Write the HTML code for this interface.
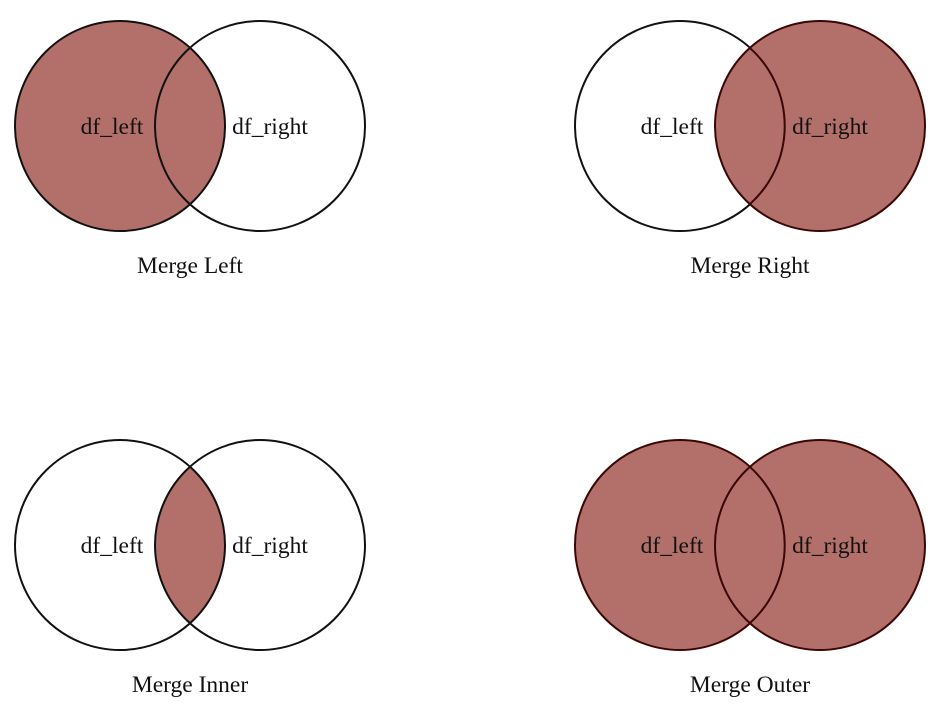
<!DOCTYPE html>
<html><head><meta charset="utf-8"><style>
html,body{margin:0;padding:0;background:#fff;}
svg{display:block}
text{font-family:"Liberation Serif",serif;font-size:23.5px;fill:#111;text-anchor:middle}
</style></head><body>
<svg width="936" height="710" viewBox="0 0 936 710" xmlns="http://www.w3.org/2000/svg">
<defs>
<clipPath id="cl"><circle cx="120" cy="545" r="105"/></clipPath>
</defs>
<circle cx="120" cy="126" r="105" fill="#b3706b" stroke="#111" stroke-width="2"/>
<circle cx="260" cy="126" r="105" fill="none" stroke="#111" stroke-width="2"/>
<text x="112" y="134">df_left</text>
<text x="270" y="134">df_right</text>
<text x="190" y="273">Merge Left</text>
<circle cx="680" cy="126" r="105" fill="none" stroke="#111" stroke-width="2"/>
<circle cx="820" cy="126" r="105" fill="#b3706b" stroke="#3a0606" stroke-width="2"/>
<path d="M750,48 A105,105 0 0 1 750,204" fill="none" stroke="#3a0606" stroke-width="2"/>
<text x="672" y="134">df_left</text>
<text x="830" y="134">df_right</text>
<text x="750" y="273">Merge Right</text>
<circle cx="260" cy="545" r="105" fill="#b3706b" clip-path="url(#cl)"/>
<circle cx="120" cy="545" r="105" fill="none" stroke="#111" stroke-width="2"/>
<circle cx="260" cy="545" r="105" fill="none" stroke="#111" stroke-width="2"/>
<text x="112" y="553">df_left</text>
<text x="270" y="553">df_right</text>
<text x="190" y="692">Merge Inner</text>
<circle cx="680" cy="545" r="105" fill="#b3706b" stroke="#3a0606" stroke-width="2"/>
<circle cx="820" cy="545" r="105" fill="#b3706b" stroke="#3a0606" stroke-width="2"/>
<path d="M750,467 A105,105 0 0 1 750,623" fill="none" stroke="#3a0606" stroke-width="2"/>
<text x="672" y="553">df_left</text>
<text x="830" y="553">df_right</text>
<text x="750" y="692">Merge Outer</text>
</svg>
</body></html>
